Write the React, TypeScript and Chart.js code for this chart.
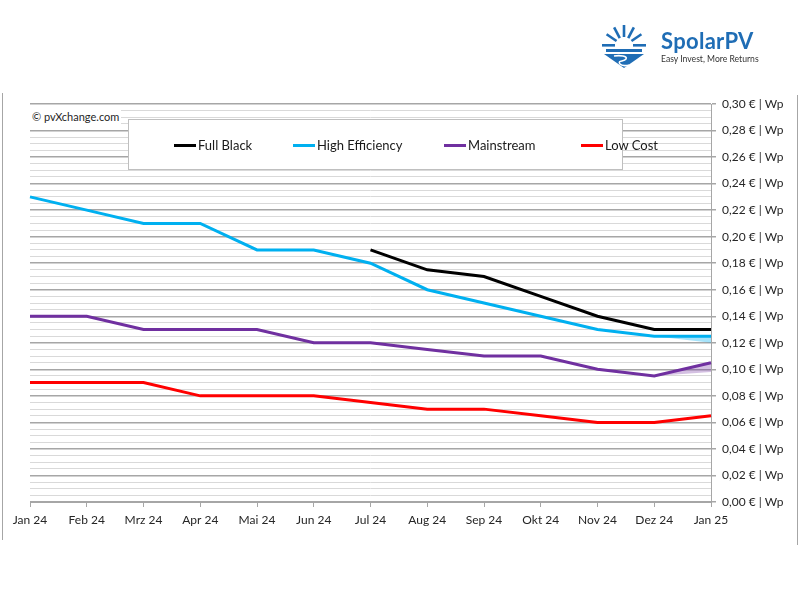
import React, { useEffect, useRef } from "react";
import { Chart, registerables } from "chart.js";

Chart.register(...registerables);

const categories = ["Jan 24", "Feb 24", "Mrz 24", "Apr 24", "Mai 24", "Jun 24", "Jul 24", "Aug 24", "Sep 24", "Okt 24", "Nov 24", "Dez 24", "Jan 25"];
const fullBlack = [null, null, null, null, null, null, 0.19, 0.175, 0.17, 0.155, 0.14, 0.13, 0.13];
const highEfficiency = [0.23, 0.22, 0.21, 0.21, 0.19, 0.19, 0.18, 0.16, 0.15, 0.14, 0.13, 0.125, 0.125];
const mainstream = [0.14, 0.14, 0.13, 0.13, 0.13, 0.12, 0.12, 0.115, 0.11, 0.11, 0.1, 0.095, 0.105];
const lowCost = [0.09, 0.09, 0.09, 0.08, 0.08, 0.08, 0.075, 0.07, 0.07, 0.065, 0.06, 0.06, 0.065];
const highEfficiencyLow = [null, null, null, null, null, null, null, null, null, null, null, 0.125, 0.12];
const mainstreamLow = [null, null, null, null, null, null, null, null, null, null, null, 0.095, 0.098];

const seriesNames = ["Full Black", "High Efficiency", "Mainstream", "Low Cost"];
const seriesColors = ["#000000", "#00b0f0", "#7030a0", "#ff0000"];

const Y_MIN = 0;
const Y_MAX = 0.3;
const Y_MINOR_STEP = 0.005;
const Y_MAJOR_EVERY = 4;
const yUnit = " € | Wp";

const FONT = "Lato, 'Noto Sans', sans-serif";

function Logo() {
  const blue = "#1f6db5";
  const rays = [-90, -62, -34, -118, -146];
  const cx = 24, cy = 24;
  return (
    <div style={{ position: "absolute", left: 600, top: 22, width: 170, height: 50 }}>
      <svg width={48} height={48} style={{ position: "absolute", left: 0, top: 0 }}>
        {rays.map((a, i) => {
          const r = (a * Math.PI) / 180;
          return (
            <line key={i} x1={cx + Math.cos(r) * 9} y1={cy + Math.sin(r) * 9} x2={cx + Math.cos(r) * 21} y2={cy + Math.sin(r) * 21} stroke={blue} strokeWidth={2.6} />
          );
        })}
        <rect x={2} y={22} width={13} height={2.6} fill={blue} />
        <rect x={33} y={22} width={13} height={2.6} fill={blue} />
        <rect x={6} y={27} width={36} height={3} fill={blue} />
        <path d="M4 32 L44 32 L24 46 Z" fill={blue} />
        <path d="M14 34 C20 33 28 34 26 37 C24 40 17 38 20 42 C22 44 27 44 29 43" stroke="#ffffff" strokeWidth={1.6} fill="none" />
      </svg>
      <div style={{ position: "absolute", left: 61, top: 6, fontFamily: FONT, fontWeight: 700, fontSize: 22, color: blue, letterSpacing: 0.3, lineHeight: "26px" }}>SpolarPV</div>
      <div style={{ position: "absolute", left: 61, top: 31, fontFamily: FONT, fontSize: 8.6, color: "#333333", lineHeight: "12px", whiteSpace: "nowrap" }}>Easy Invest, More Returns</div>
    </div>
  );
}

function Legend() {
  const itemX = [173, 292, 443, 580];
  return (
    <div style={{ position: "absolute", left: 128, top: 119, width: 495, height: 51, border: "1px solid #bfbfbf", background: "#ffffff", boxSizing: "border-box" }}>
      {seriesNames.map((n, i) => (
        <div key={n} style={{ position: "absolute", left: itemX[i] - 128, top: 16, height: 18, display: "flex", alignItems: "center", whiteSpace: "nowrap" }}>
          <span style={{ display: "inline-block", width: 22, height: 3, background: seriesColors[i] }} />
          <span style={{ fontFamily: FONT, fontSize: 13, color: "#1a1a1a", marginLeft: 2 }}>{n}</span>
        </div>
      ))}
    </div>
  );
}

export default function App() {
  const canvasRef = useRef<HTMLCanvasElement | null>(null);

  useEffect(() => {
    const canvas = canvasRef.current;
    if (!canvas) return;
    const line = (label: string, data: (number | null)[], color: string) => ({
      label,
      data,
      borderColor: color,
      backgroundColor: color,
      borderWidth: 3,
      pointRadius: 0,
      tension: 0,
      fill: false,
    });
    const chart = new Chart(canvas, {
      type: "line",
      data: {
        labels: categories,
        datasets: [
          line(seriesNames[0], fullBlack, seriesColors[0]),
          line(seriesNames[1], highEfficiency, seriesColors[1]),
          line(seriesNames[2], mainstream, seriesColors[2]),
          line(seriesNames[3], lowCost, seriesColors[3]),
          {
            label: "HE band",
            data: highEfficiencyLow,
            borderWidth: 0,
            borderColor: "rgba(0,0,0,0)",
            backgroundColor: "rgba(0,176,240,0.35)",
            pointRadius: 0,
            tension: 0,
            fill: 1,
          },
          {
            label: "MS band",
            data: mainstreamLow,
            borderWidth: 0,
            borderColor: "rgba(0,0,0,0)",
            backgroundColor: "rgba(112,48,160,0.3)",
            pointRadius: 0,
            tension: 0,
            fill: 2,
          },
        ],
      },
      options: {
        responsive: false,
        animation: false,
        devicePixelRatio: 1,
        layout: { padding: { left: 30, top: 104, right: 0, bottom: 68 } },
        plugins: {
          legend: { display: false },
          tooltip: { enabled: false },
        },
        scales: {
          x: {
            offset: false,
            grid: { drawOnChartArea: false, drawTicks: true, tickLength: 5, tickColor: "#a6a6a6" },
            border: { color: "#a6a6a6", width: 1 },
            ticks: { color: "#262626", font: { family: FONT, size: 12 }, padding: 6, maxRotation: 0, autoSkip: false },
            afterFit: (s: any) => { s.height = 30; },
          },
          y: {
            position: "right",
            min: Y_MIN,
            max: Y_MAX,
            grid: {
              color: (ctx: any) => (ctx.index % Y_MAJOR_EVERY === 0 ? "#a6a6a6" : "#d9d9d9"),
              tickColor: (ctx: any) => (ctx.index % Y_MAJOR_EVERY === 0 ? "#a6a6a6" : "rgba(0,0,0,0)"),
              tickLength: 5,
              lineWidth: (ctx: any) => (ctx.index % Y_MAJOR_EVERY === 0 ? 1.5 : 1),
            },
            border: { color: "#a6a6a6", width: 1 },
            ticks: {
              stepSize: Y_MINOR_STEP,
              autoSkip: false,
              padding: 6,
              color: "#262626",
              font: { family: FONT, size: 12 },
              callback: (v: any) => {
                const k = Math.round(Number(v) / Y_MINOR_STEP);
                if (k % Y_MAJOR_EVERY !== 0) return "";
                return Number(v).toFixed(2).replace(".", ",") + yUnit;
              },
            },
            afterFit: (s: any) => { s.width = 89; },
          },
        },
      },
    } as any);
    return () => chart.destroy();
  }, []);

  return (
    <div style={{ position: "absolute", left: 0, top: 0, width: 800, height: 600, background: "#ffffff", overflow: "hidden" }}>
      <canvas ref={canvasRef} width={800} height={600} style={{ position: "absolute", left: 0, top: 0, width: 800, height: 600 }} />
      <div style={{ position: "absolute", left: 2, top: 93, width: 1, height: 447, background: "#a6a6a6" }} />
      <div style={{ position: "absolute", left: 797, top: 95, width: 1, height: 450, background: "#a6a6a6" }} />
      <div style={{ position: "absolute", left: 30, top: 109, height: 16, padding: "0 2px", background: "#ffffff", fontFamily: FONT, fontSize: 11, color: "#262626", lineHeight: "16px", whiteSpace: "nowrap" }}>© pvXchange.com</div>
      <Legend />
      <Logo />
    </div>
  );
}
